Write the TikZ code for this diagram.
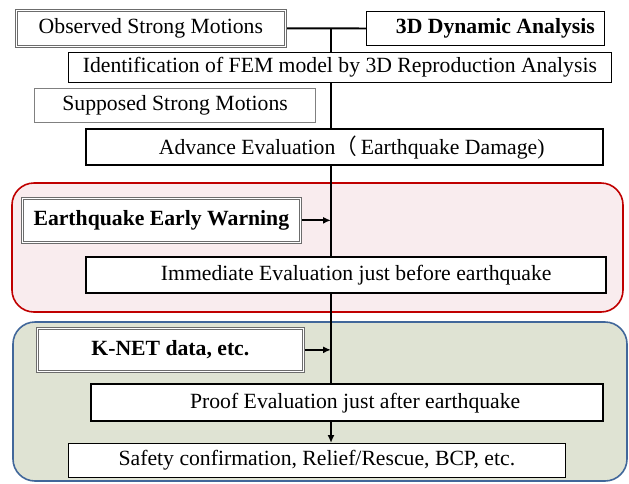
\documentclass[tikz,border=0pt]{standalone}
\usepackage{fontspec}
\setmainfont{Liberation Serif}
\newfontfamily\cjkfont{Noto Sans CJK SC}
\usetikzlibrary{arrows.meta}
\usetikzlibrary{positioning}
\usetikzlibrary{backgrounds}
\definecolor{warnred}{HTML}{C00000}
\definecolor{warnpink}{HTML}{F9ECEE}
\definecolor{knetblue}{HTML}{41679A}
\definecolor{knetgreen}{HTML}{DFE3D3}

\begin{document}
\begin{tikzpicture}[x=1pt,y=-1pt]
\tikzstyle{box}=[rectangle,anchor=north west,inner sep=0pt,draw,line width=0.8pt,fill=white,font=\fontsize{21.7}{25}\selectfont]
\tikzstyle{thickbox}=[box,line width=2.4pt]
\tikzstyle{dblbox}=[box,draw=gray!85!black,double=white,double distance=1.6pt,line width=0.7pt]
\tikzstyle{greybox}=[box,draw=gray,line width=1.2pt]
\tikzstyle{region}=[rounded corners=22pt,line width=1.6pt]
\tikzstyle{link}=[line width=1.8pt]
\tikzstyle{feed}=[link,-{Latex[length=8pt,width=7pt]}]
\useasboundingbox (0,0) rectangle (629,483);
\coordinate (spine) at (331,28);
\node[dblbox,minimum width=269pt,minimum height=36pt] at(16, 10) (obs) {Observed Strong Motions};
\node[box,minimum width=238pt,minimum height=34pt] at(366, 11) (dyn) {\hspace*{20pt}\textbf{3D Dynamic Analysis}};
\node[box,minimum width=543pt,minimum height=30pt] at(68, 52) (ident) {Identification of FEM model by 3D Reproduction Analysis};
\node[greybox,minimum width=281pt,minimum height=34pt] at(34, 88) (supp) {Supposed Strong Motions};
\node[thickbox,minimum width=517pt,minimum height=36pt] at(85, 128) (adv) {\hspace*{14pt}Advance Evaluation{\cjkfont （}\,Earthquake Damage)};
\node[dblbox,minimum width=278pt,minimum height=44pt] at(22, 198) (eew) {\textbf{Earthquake Early Warning}};
\node[thickbox,minimum width=520pt,minimum height=36pt] at(85, 256) (imm) {\hspace*{20pt}Immediate Evaluation just before earthquake};
\node[dblbox,minimum width=266pt,minimum height=43pt] at(37, 328) (knet) {\textbf{K-NET data, etc.}};
\node[thickbox,minimum width=512pt,minimum height=37pt] at(90, 383) (proof) {\hspace*{16pt}Proof Evaluation just after earthquake};
\node[box,minimum width=497pt,minimum height=34pt] at(68, 443) (safety) {Safety confirmation, Relief/Rescue, BCP, etc.};
\begin{pgfonlayer}{background}
% time windows
\draw[region,draw=warnred,fill=warnpink] (12,183) rectangle (623,312);
\draw[region,draw=knetblue,fill=knetgreen] (13,322) rectangle (627,481);
% main flow
\draw[link] (obs.east) -- (dyn.west);
\draw[link] (spine) -- (spine |- proof.north);
\draw[feed] (eew.east) -- (eew.east -| spine);
\draw[feed] (knet.east) -- (knet.east -| spine);
\draw[feed] (proof.south -| spine) -- (safety.north -| spine);
\end{pgfonlayer}
\end{tikzpicture}
\end{document}
